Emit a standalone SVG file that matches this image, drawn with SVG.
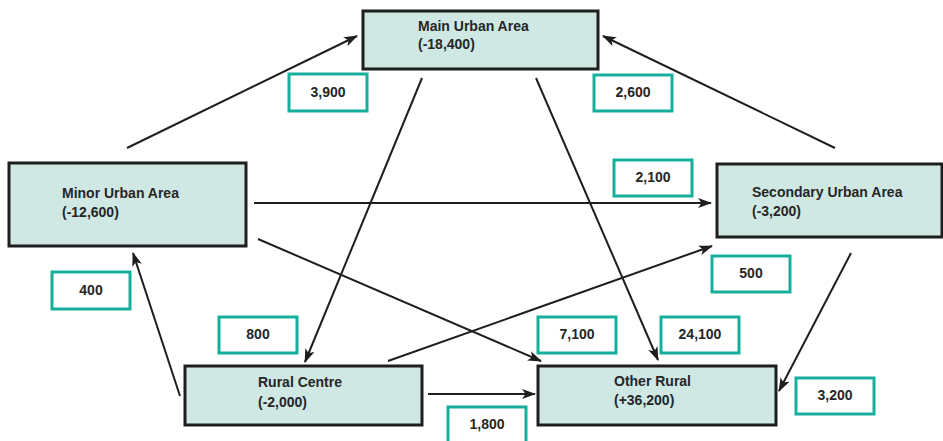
<svg xmlns="http://www.w3.org/2000/svg" width="943" height="441" viewBox="0 0 943 441">
<style>
.node{fill:#cfe8e4;stroke:#1e1e1e;stroke-width:3}
.lbl{fill:#fff;stroke:#14b09b;stroke-width:3}
.nt{font-family:"Liberation Sans",Arial,sans-serif;font-weight:bold;font-size:14px;fill:#262626}
.lt{font-family:"Liberation Sans",Arial,sans-serif;font-weight:bold;font-size:14px;fill:#262626;text-anchor:middle}
.edge{stroke:#1e1e1e;stroke-width:2;fill:none;marker-end:url(#ah)}
</style>
<defs>
<marker id="ah" markerUnits="userSpaceOnUse" markerWidth="14" markerHeight="10" refX="13" refY="5" orient="auto">
<path d="M0,0 L14,5 L0,10 L3.5,5 z" fill="#1e1e1e"/>
</marker>
</defs>
<rect width="943" height="441" fill="#fff"/>
<g id="connectors">
<line class="edge" x1="127" y1="148" x2="357" y2="36"/>
<line class="edge" x1="835" y1="148" x2="603" y2="36"/>
<line class="edge" x1="254" y1="203" x2="711" y2="203"/>
<line class="edge" x1="258" y1="239" x2="541" y2="361"/>
<line class="edge" x1="422" y1="78" x2="305" y2="362"/>
<line class="edge" x1="536" y1="78" x2="658" y2="360"/>
<line class="edge" x1="388" y1="361" x2="712" y2="246"/>
<line class="edge" x1="851" y1="253" x2="779" y2="391"/>
<line class="edge" x1="180" y1="396" x2="133" y2="253"/>
<line class="edge" x1="428" y1="394" x2="535" y2="394"/>
</g>
<g id="main-urban">
<rect class="node" x="363" y="11" width="235" height="58"/>
<text class="nt" x="418" y="31">Main Urban Area</text>
<text class="nt" x="418" y="49">(-18,400)</text>
</g>
<g id="minor-urban">
<rect class="node" x="9" y="163" width="237" height="83"/>
<text class="nt" x="62" y="198">Minor Urban Area</text>
<text class="nt" x="62" y="217">(-12,600)</text>
</g>
<g id="secondary-urban">
<rect class="node" x="717" y="164" width="225" height="73"/>
<text class="nt" x="752" y="197">Secondary Urban Area</text>
<text class="nt" x="752" y="216">(-3,200)</text>
</g>
<g id="rural-centre">
<rect class="node" x="185" y="366" width="237" height="59"/>
<text class="nt" x="258" y="387">Rural Centre</text>
<text class="nt" x="258" y="407">(-2,000)</text>
</g>
<g id="other-rural">
<rect class="node" x="538" y="366" width="238" height="59"/>
<text class="nt" x="614" y="386">Other Rural</text>
<text class="nt" x="614" y="405">(+36,200)</text>
</g>
<g id="labels">
<g id="l-3900"><rect class="lbl" x="289" y="74" width="78" height="37"/><text class="lt" x="328" y="97">3,900</text></g>
<g id="l-2600"><rect class="lbl" x="594" y="75" width="78" height="36"/><text class="lt" x="633" y="97">2,600</text></g>
<g id="l-2100"><rect class="lbl" x="614" y="160" width="78" height="36"/><text class="lt" x="653" y="182">2,100</text></g>
<g id="l-500"><rect class="lbl" x="712" y="256" width="78" height="36"/><text class="lt" x="751" y="278">500</text></g>
<g id="l-400"><rect class="lbl" x="52" y="272" width="78" height="37"/><text class="lt" x="91" y="295">400</text></g>
<g id="l-800"><rect class="lbl" x="219" y="317" width="78" height="36"/><text class="lt" x="258" y="339">800</text></g>
<g id="l-7100"><rect class="lbl" x="538" y="317" width="78" height="36"/><text class="lt" x="577" y="339">7,100</text></g>
<g id="l-24100"><rect class="lbl" x="661" y="317" width="78" height="36"/><text class="lt" x="700" y="339">24,100</text></g>
<g id="l-3200"><rect class="lbl" x="796" y="378" width="78" height="36"/><text class="lt" x="835" y="400">3,200</text></g>
<g id="l-1800"><rect class="lbl" x="448" y="407" width="78" height="36"/><text class="lt" x="487" y="429">1,800</text></g>
</g>
</svg>
